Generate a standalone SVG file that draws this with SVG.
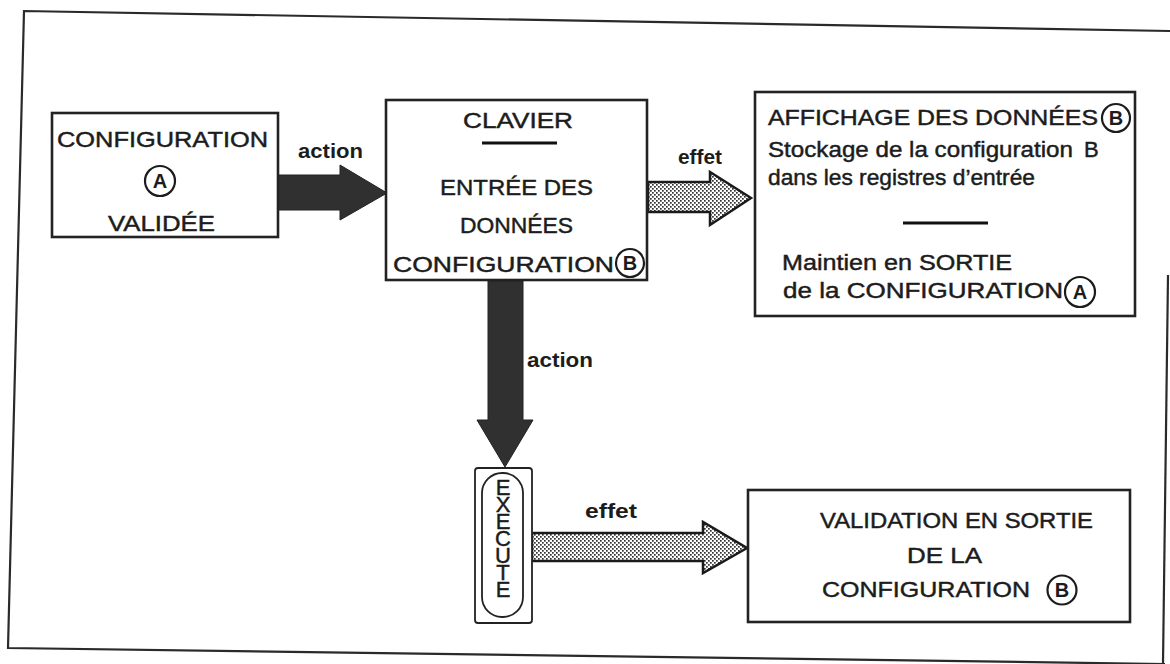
<svg xmlns="http://www.w3.org/2000/svg" width="1170" height="664" viewBox="0 0 1170 664">
  <style>
    .box { fill: #ffffff; stroke: #222; stroke-width: 2.6; }
    .t { font-family: "Liberation Sans", Arial, sans-serif; font-size: 22px; fill: #1c1c1c; stroke: #1c1c1c; stroke-width: 0.45; }
    .lbl { font-family: "Liberation Sans", Arial, sans-serif; font-size: 21px; font-weight: bold; fill: #1c1c1c; }
    .circ { fill: none; stroke: #1c1c1c; stroke-width: 2.2; }
    .cl { font-family: "Liberation Sans", Arial, sans-serif; font-size: 20px; font-weight: bold; fill: #1c1c1c; text-anchor: middle; }
    .sep { stroke: #111; stroke-width: 3; }
    .dark { fill: #303030; stroke: #222; stroke-width: 1; }
    .dot { fill: url(#dots); stroke: #1a1a1a; stroke-width: 2.5; stroke-linejoin: miter; }
    .frame { fill: none; stroke: #2a2a2a; stroke-width: 2.2; }
    .vert { font-family: "Liberation Sans", Arial, sans-serif; font-size: 22px; fill: #1c1c1c; stroke: #1c1c1c; stroke-width: 0.45; writing-mode: tb; text-orientation: upright; }
  </style>
  <defs>
    <pattern id="dots" width="4" height="4" patternUnits="userSpaceOnUse">
      <rect width="4" height="4" fill="#ffffff"/>
      <rect x="0" y="0" width="1.7" height="1.7" fill="#333"/>
      <rect x="2" y="2" width="1.7" height="1.7" fill="#333"/>
    </pattern>
  </defs>
  <rect width="1170" height="664" fill="#ffffff"/>

  <g id="frame">
    <polyline class="frame" points="1170,31 24,11 8,648 1165,664"/>
    <line class="frame" x1="1168" y1="275" x2="1163" y2="664"/>
  </g>

  <g id="connectors">
    <polygon class="dark" points="278,175 340,175 340,165 387,193 340,220 340,210 278,210"/>
    <text class="lbl" x="298" y="158" textLength="65" lengthAdjust="spacingAndGlyphs">action</text>
    <polygon class="dot" points="648,182 710,182 710,172 751,198 710,225 710,212 648,212"/>
    <text class="lbl" x="678" y="164" textLength="44" lengthAdjust="spacingAndGlyphs">effet</text>
    <polygon class="dark" points="488,281 488,420 477,420 505,467 533,420 523,420 523,281"/>
    <text class="lbl" x="527" y="367" textLength="66" lengthAdjust="spacingAndGlyphs">action</text>
    <polygon class="dot" points="532,533 703,533 703,522 747,548 703,573 703,561 532,561"/>
    <text class="lbl" x="585" y="518" textLength="52" lengthAdjust="spacingAndGlyphs">effet</text>
  </g>

  <g id="node-config-a">
    <rect class="box" x="52" y="113" width="226" height="124"/>
    <text class="t" x="57" y="147" textLength="211" lengthAdjust="spacingAndGlyphs">CONFIGURATION</text>
    <circle class="circ" cx="160" cy="181" r="15"/>
    <text class="cl" x="160" y="188">A</text>
    <text class="t" x="108" y="231" textLength="107" lengthAdjust="spacingAndGlyphs">VALIDÉE</text>
  </g>

  <g id="node-clavier">
    <rect class="box" x="386" y="100" width="261" height="180"/>
    <text class="t" x="463" y="128" textLength="110" lengthAdjust="spacingAndGlyphs">CLAVIER</text>
    <line class="sep" x1="482" y1="143" x2="557" y2="143"/>
    <text class="t" x="440" y="195" textLength="153" lengthAdjust="spacingAndGlyphs">ENTRÉE DES</text>
    <text class="t" x="460" y="233" textLength="113" lengthAdjust="spacingAndGlyphs">DONNÉES</text>
    <text class="t" x="393" y="272" textLength="221" lengthAdjust="spacingAndGlyphs">CONFIGURATION</text>
    <circle class="circ" cx="630" cy="263" r="14"/>
    <text class="cl" x="630" y="270">B</text>
  </g>

  <g id="node-affichage">
    <rect class="box" x="755" y="92" width="380" height="224"/>
    <text class="t" x="768" y="125" textLength="330" lengthAdjust="spacingAndGlyphs">AFFICHAGE DES DONNÉES</text>
    <circle class="circ" cx="1116" cy="118" r="14"/>
    <text class="cl" x="1116" y="125">B</text>
    <text class="t" x="768" y="157" textLength="305" lengthAdjust="spacingAndGlyphs">Stockage de la configuration</text>
    <text class="t" x="1084" y="157">B</text>
    <text class="t" x="768" y="185" textLength="267" lengthAdjust="spacingAndGlyphs">dans les registres d’entrée</text>
    <line class="sep" x1="903" y1="223" x2="988" y2="223"/>
    <text class="t" x="782" y="270" textLength="230" lengthAdjust="spacingAndGlyphs">Maintien en SORTIE</text>
    <text class="t" x="783" y="298" textLength="280" lengthAdjust="spacingAndGlyphs">de la CONFIGURATION</text>
    <circle class="circ" cx="1080" cy="292" r="15"/>
    <text class="cl" x="1080" y="299">A</text>
  </g>

  <g id="node-execute">
    <rect x="475" y="468" width="57" height="155" rx="3" fill="#ffffff" stroke="#222" stroke-width="1.8"/>
    <rect x="482" y="473" width="41" height="144" rx="20" fill="none" stroke="#222" stroke-width="1.8"/>
    <text class="vert" x="503" y="475" textLength="127" lengthAdjust="spacing">EXECUTE</text>
  </g>

  <g id="node-validation">
    <rect class="box" x="748" y="490" width="382" height="132"/>
    <text class="t" x="820" y="528" textLength="273" lengthAdjust="spacingAndGlyphs">VALIDATION EN SORTIE</text>
    <text class="t" x="907" y="563" textLength="75" lengthAdjust="spacingAndGlyphs">DE LA</text>
    <text class="t" x="822" y="597" textLength="208" lengthAdjust="spacingAndGlyphs">CONFIGURATION</text>
    <circle class="circ" cx="1062" cy="590" r="14.5"/>
    <text class="cl" x="1062" y="597">B</text>
  </g>
</svg>
